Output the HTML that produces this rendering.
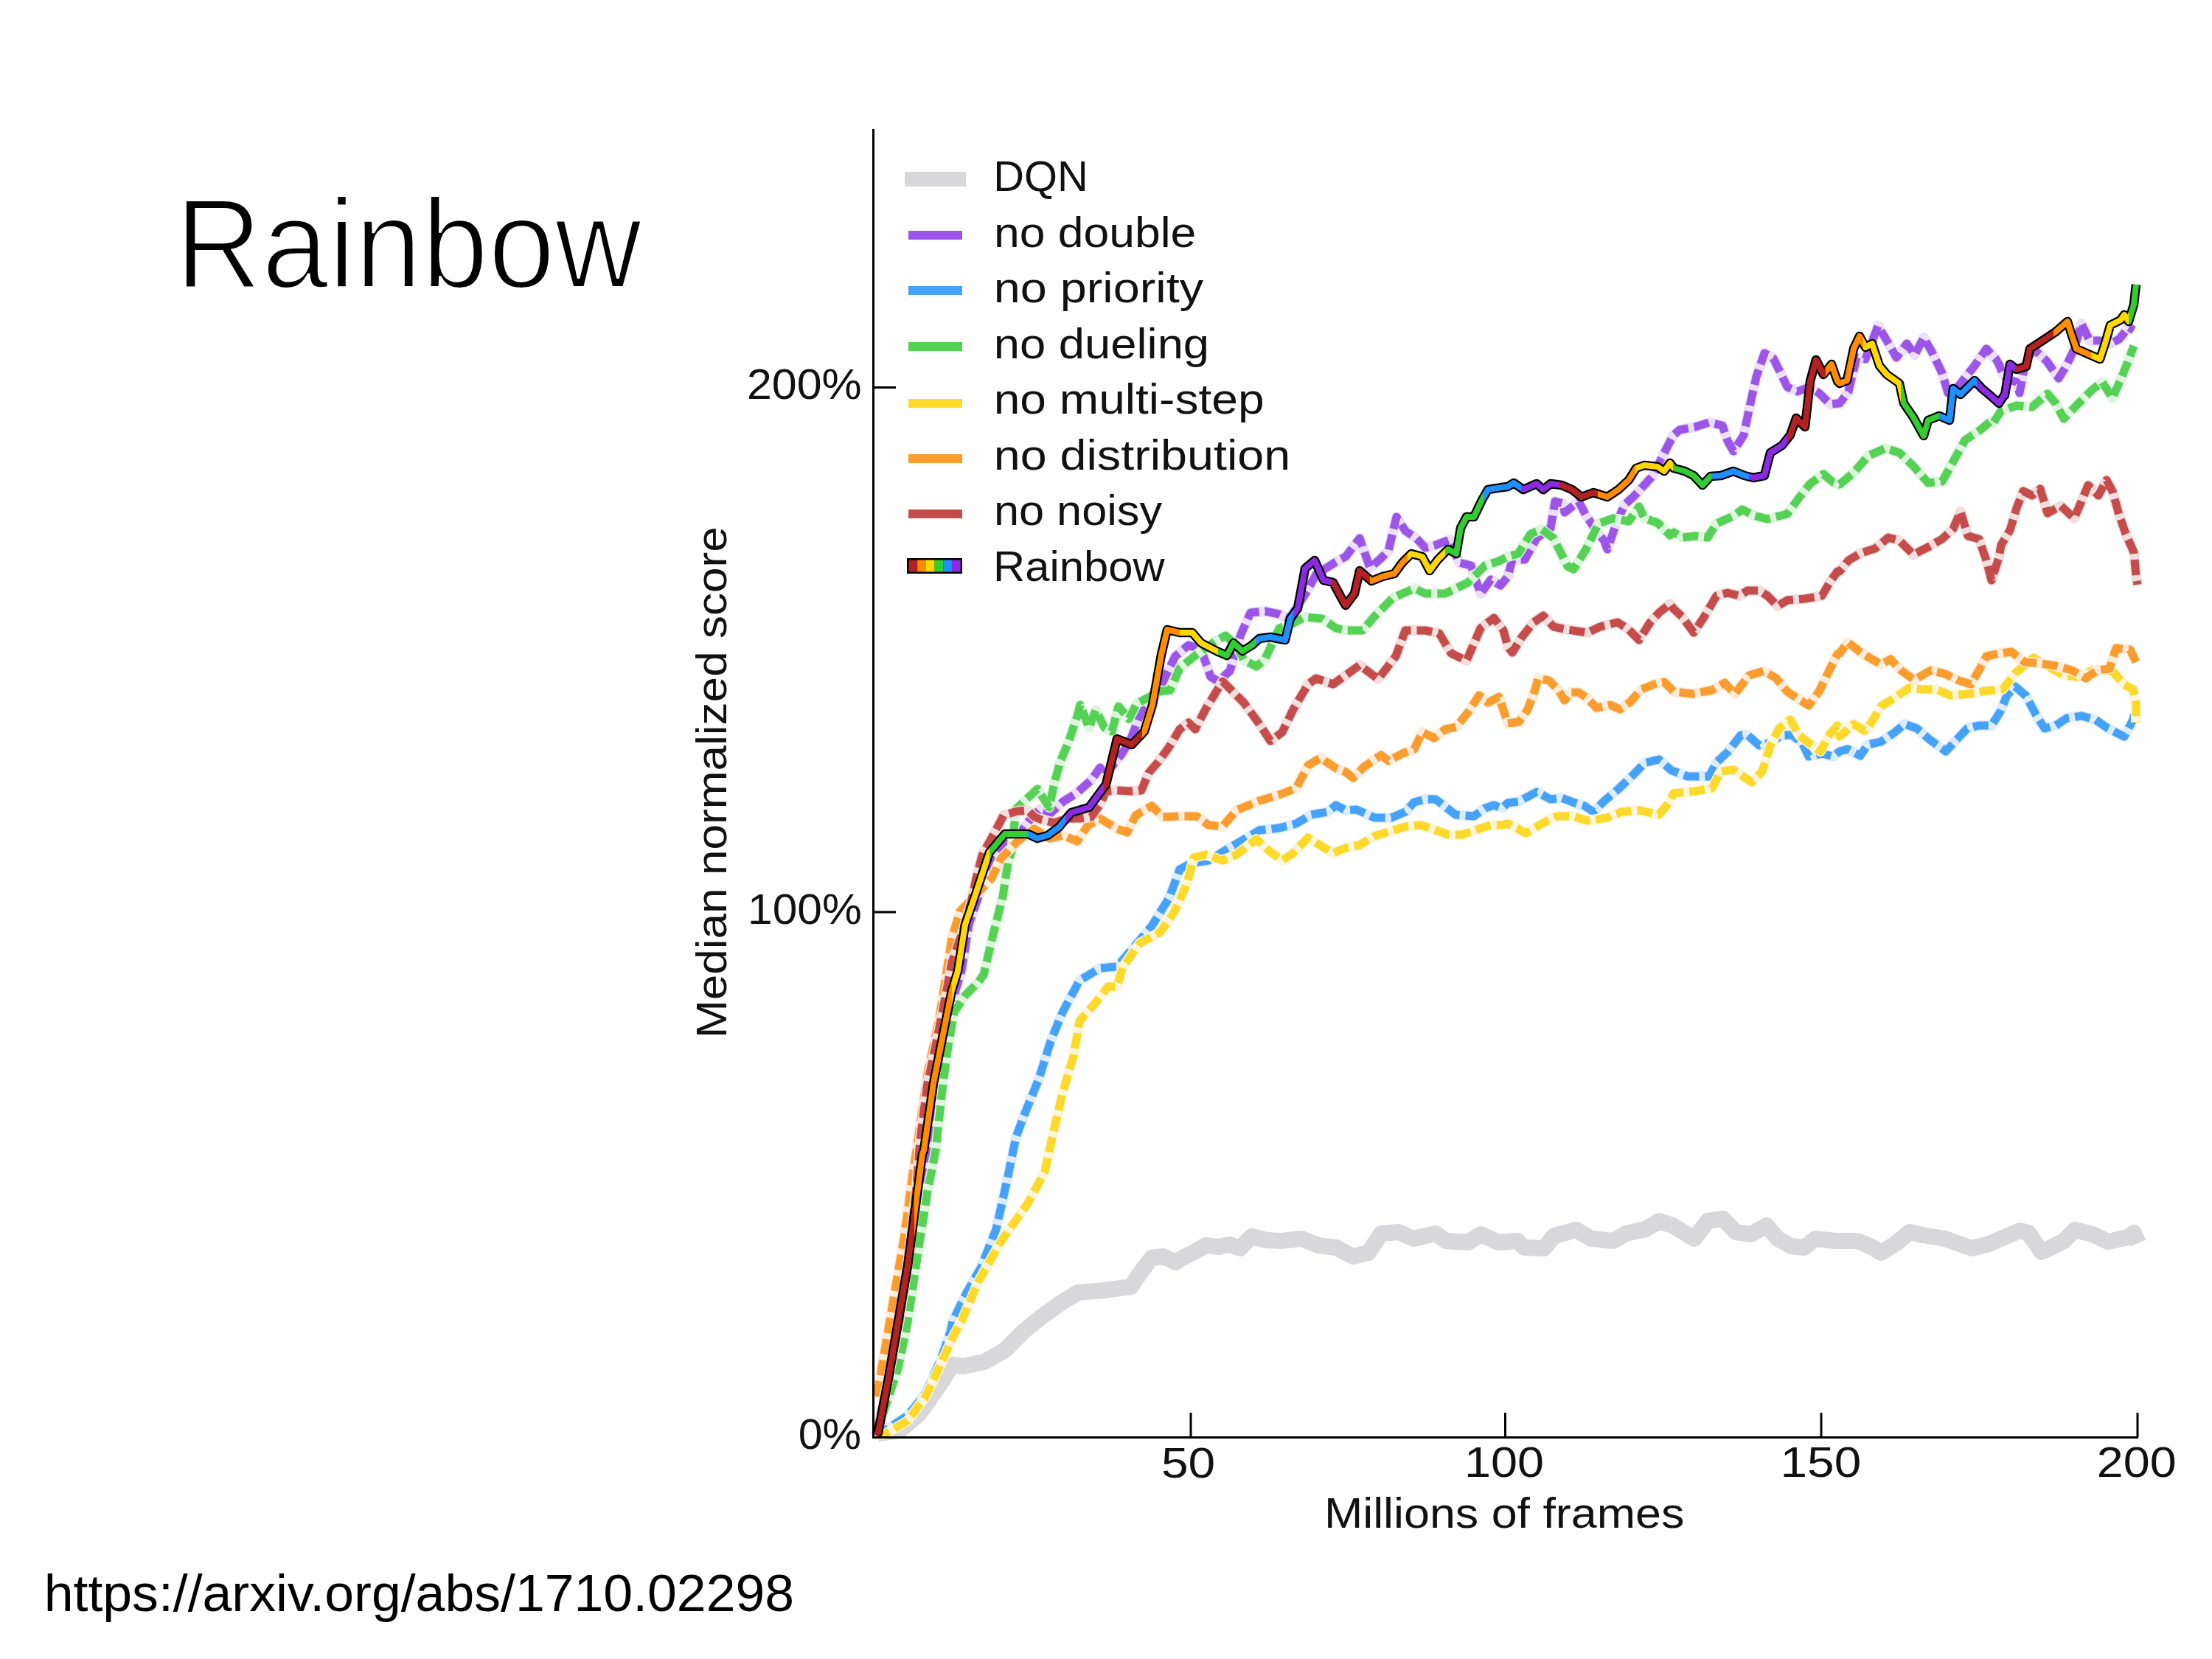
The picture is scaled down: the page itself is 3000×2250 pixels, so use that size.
<!DOCTYPE html>
<html><head><meta charset="utf-8"><style>
html,body{margin:0;padding:0;background:#fff;}
body{width:3000px;height:2250px;overflow:hidden;position:relative;}
svg{position:absolute;left:0;top:0;}
text{font-family:"Liberation Sans", sans-serif;}
</style></head><body>
<svg width="3000" height="2250" viewBox="0 0 3000 2250">
<defs><linearGradient id="rg" gradientUnits="userSpaceOnUse" x1="1188" y1="0" x2="1497" y2="0" spreadMethod="repeat"><stop offset="0.0000" stop-color="#b22222"/><stop offset="0.1667" stop-color="#b22222"/><stop offset="0.1667" stop-color="#ff8c00"/><stop offset="0.3333" stop-color="#ff8c00"/><stop offset="0.3333" stop-color="#ffd700"/><stop offset="0.5000" stop-color="#ffd700"/><stop offset="0.5000" stop-color="#32cd32"/><stop offset="0.6667" stop-color="#32cd32"/><stop offset="0.6667" stop-color="#1e90ff"/><stop offset="0.8333" stop-color="#1e90ff"/><stop offset="0.8333" stop-color="#8a2be2"/><stop offset="1.0000" stop-color="#8a2be2"/></linearGradient></defs>
<rect width="3000" height="2250" fill="#fff"/>
<text x="237.7" y="389.7" font-size="172" textLength="632.4" lengthAdjust="spacingAndGlyphs" fill="#000" stroke="#fff" stroke-width="4">Rainbow</text>
<g fill="#000"><text x="59.7" y="2184.5" font-size="70" textLength="1017.4" lengthAdjust="spacingAndGlyphs" >https://arxiv.org/abs/1710.02298</text></g>
<g>
<path d="M1188,1946 L1192,1944 L1220,1940 L1246,1918 L1264,1893 L1279,1871 L1291,1851 L1307,1853 L1335,1847 L1363,1831 L1389,1805 L1411,1787 L1439,1767 L1462,1753 L1498,1750 L1534,1745 L1548,1724 L1562,1706 L1578,1704 L1594,1712 L1600,1708 L1618,1699 L1635,1689 L1653,1691 L1668,1688 L1682,1693 L1697,1677 L1718,1682 L1738,1683 L1765,1680 L1788,1689 L1812,1692 L1835,1704 L1856,1699 L1873,1673 L1897,1671 L1917,1680 L1947,1673 L1961,1683 L1991,1685 L2008,1674 L2032,1685 L2058,1683 L2067,1692 L2094,1693 L2108,1676 L2138,1668 L2158,1680 L2188,1683 L2205,1673 L2232,1667 L2250,1656 L2268,1662 L2298,1680 L2316,1656 L2337,1653 L2354,1671 L2375,1674 L2396,1662 L2411,1680 L2429,1690 L2447,1692 L2462,1680 L2489,1683 L2519,1683 L2536,1690 L2551,1699 L2572,1686 L2590,1671 L2608,1675 L2638,1680 L2674,1693 L2698,1687 L2739,1669 L2751,1672 L2769,1698 L2799,1683 L2814,1668 L2838,1674 L2859,1684 L2886,1678 L2894,1672 L2900,1686" fill="none" stroke="#d8d8da" stroke-width="22" stroke-linejoin="round" stroke-linecap="butt"/>
<path d="M1188,1946 L1218,1856 L1223,1793 L1236,1717 L1246,1641 L1256,1565 L1271,1469 L1286,1393 L1296,1343 L1304,1317 L1314,1254 L1327,1216 L1346,1165 L1362,1146 L1375,1132 L1388,1124 L1398,1110 L1411,1097 L1426,1102 L1442,1087 L1461,1075 L1480,1058 L1492,1041 L1498,1052 L1521,1023 L1533,1004 L1548,965 L1562,952 L1579,921 L1594,890 L1600,885 L1612,875 L1629,881 L1642,918 L1652,924 L1668,910 L1683,860 L1696,831 L1716,829 L1735,833 L1749,839 L1770,806 L1785,779 L1812,762 L1825,755 L1844,730 L1858,770 L1871,759 L1883,747 L1894,701 L1906,720 L1921,730 L1933,743 L1945,740 L1966,732 L1979,763 L1995,767 L2008,805 L2022,786 L2035,794 L2045,782 L2051,759 L2068,759 L2084,730 L2103,716 L2109,680 L2120,683 L2122,695 L2141,680 L2151,699 L2165,720 L2176,734 L2180,745 L2192,710 L2203,685 L2217,672 L2228,660 L2242,645 L2253,622 L2267,595 L2270,590 L2278,583 L2299,579 L2318,573 L2336,577 L2343,598 L2351,612 L2365,590 L2372,556 L2382,511 L2393,479 L2405,486 L2415,506 L2424,525 L2438,531 L2453,525 L2467,533 L2482,548 L2495,547 L2507,531 L2518,485 L2530,487 L2547,442 L2559,462 L2572,485 L2586,466 L2597,481 L2609,458 L2620,477 L2634,506 L2642,533 L2655,525 L2678,496 L2694,473 L2707,487 L2711,494 L2717,508 L2723,515 L2735,518 L2739,533 L2746,496 L2758,473 L2776,490 L2792,513 L2802,497 L2813,474 L2823,439 L2834,462 L2848,462 L2862,466 L2874,460 L2887,444 L2894,448" fill="none" stroke="#ecdffa" stroke-width="14" stroke-linejoin="round"/>
<path d="M1188,1946 L1218,1856 L1223,1793 L1236,1717 L1246,1641 L1256,1565 L1271,1469 L1286,1393 L1296,1343 L1304,1317 L1314,1254 L1327,1216 L1346,1165 L1362,1146 L1375,1132 L1388,1124 L1398,1110 L1411,1097 L1426,1102 L1442,1087 L1461,1075 L1480,1058 L1492,1041 L1498,1052 L1521,1023 L1533,1004 L1548,965 L1562,952 L1579,921 L1594,890 L1600,885 L1612,875 L1629,881 L1642,918 L1652,924 L1668,910 L1683,860 L1696,831 L1716,829 L1735,833 L1749,839 L1770,806 L1785,779 L1812,762 L1825,755 L1844,730 L1858,770 L1871,759 L1883,747 L1894,701 L1906,720 L1921,730 L1933,743 L1945,740 L1966,732 L1979,763 L1995,767 L2008,805 L2022,786 L2035,794 L2045,782 L2051,759 L2068,759 L2084,730 L2103,716 L2109,680 L2120,683 L2122,695 L2141,680 L2151,699 L2165,720 L2176,734 L2180,745 L2192,710 L2203,685 L2217,672 L2228,660 L2242,645 L2253,622 L2267,595 L2270,590 L2278,583 L2299,579 L2318,573 L2336,577 L2343,598 L2351,612 L2365,590 L2372,556 L2382,511 L2393,479 L2405,486 L2415,506 L2424,525 L2438,531 L2453,525 L2467,533 L2482,548 L2495,547 L2507,531 L2518,485 L2530,487 L2547,442 L2559,462 L2572,485 L2586,466 L2597,481 L2609,458 L2620,477 L2634,506 L2642,533 L2655,525 L2678,496 L2694,473 L2707,487 L2711,494 L2717,508 L2723,515 L2735,518 L2739,533 L2746,496 L2758,473 L2776,490 L2792,513 L2802,497 L2813,474 L2823,439 L2834,462 L2848,462 L2862,466 L2874,460 L2887,444 L2894,448" fill="none" stroke="#9b55e8" stroke-width="11" stroke-dasharray="21 8" stroke-linejoin="round"/>

<path d="M1186,1946 L1200,1940 L1231,1920 L1256,1889 L1276,1844 L1289,1806 L1292,1792 L1311,1753 L1331,1718 L1351,1667 L1366,1600 L1378,1542 L1390,1510 L1409,1463 L1425,1412 L1441,1373 L1464,1330 L1492,1313 L1515,1311 L1539,1283 L1562,1256 L1586,1217 L1600,1179 L1615,1171 L1639,1167 L1664,1152 L1681,1142 L1708,1126 L1735,1123 L1758,1117 L1778,1105 L1801,1101 L1812,1092 L1825,1099 L1840,1098 L1864,1109 L1887,1109 L1906,1101 L1918,1088 L1933,1084 L1947,1084 L1960,1094 L1974,1105 L1999,1107 L2014,1096 L2026,1092 L2037,1096 L2045,1089 L2060,1087 L2084,1074 L2103,1084 L2118,1082 L2136,1089 L2149,1093 L2161,1101 L2176,1086 L2195,1070 L2215,1051 L2230,1035 L2250,1030 L2267,1045 L2270,1046 L2289,1053 L2318,1053 L2328,1034 L2343,1020 L2361,997 L2370,997 L2386,1011 L2401,1007 L2417,997 L2430,997 L2444,1007 L2453,1026 L2471,1022 L2486,1026 L2495,1019 L2506,1016 L2523,1025 L2533,1010 L2551,1006 L2570,993 L2583,982 L2600,988 L2617,1003 L2639,1019 L2653,1004 L2668,988 L2683,984 L2701,984 L2713,965 L2722,943 L2733,931 L2748,944 L2761,969 L2773,988 L2788,984 L2803,974 L2823,971 L2842,976 L2859,988 L2881,999 L2893,976 L2895,969" fill="none" stroke="#ddedfd" stroke-width="14" stroke-linejoin="round"/>
<path d="M1186,1946 L1200,1940 L1231,1920 L1256,1889 L1276,1844 L1289,1806 L1292,1792 L1311,1753 L1331,1718 L1351,1667 L1366,1600 L1378,1542 L1390,1510 L1409,1463 L1425,1412 L1441,1373 L1464,1330 L1492,1313 L1515,1311 L1539,1283 L1562,1256 L1586,1217 L1600,1179 L1615,1171 L1639,1167 L1664,1152 L1681,1142 L1708,1126 L1735,1123 L1758,1117 L1778,1105 L1801,1101 L1812,1092 L1825,1099 L1840,1098 L1864,1109 L1887,1109 L1906,1101 L1918,1088 L1933,1084 L1947,1084 L1960,1094 L1974,1105 L1999,1107 L2014,1096 L2026,1092 L2037,1096 L2045,1089 L2060,1087 L2084,1074 L2103,1084 L2118,1082 L2136,1089 L2149,1093 L2161,1101 L2176,1086 L2195,1070 L2215,1051 L2230,1035 L2250,1030 L2267,1045 L2270,1046 L2289,1053 L2318,1053 L2328,1034 L2343,1020 L2361,997 L2370,997 L2386,1011 L2401,1007 L2417,997 L2430,997 L2444,1007 L2453,1026 L2471,1022 L2486,1026 L2495,1019 L2506,1016 L2523,1025 L2533,1010 L2551,1006 L2570,993 L2583,982 L2600,988 L2617,1003 L2639,1019 L2653,1004 L2668,988 L2683,984 L2701,984 L2713,965 L2722,943 L2733,931 L2748,944 L2761,969 L2773,988 L2788,984 L2803,974 L2823,971 L2842,976 L2859,988 L2881,999 L2893,976 L2895,969" fill="none" stroke="#45a2f8" stroke-width="11" stroke-dasharray="21 8" stroke-linejoin="round"/>

<path d="M1188,1946 L1218,1856 L1231,1793 L1246,1692 L1258,1616 L1269,1560 L1279,1469 L1286,1418 L1294,1373 L1309,1350 L1327,1332 L1334,1322 L1347,1267 L1360,1216 L1367,1170 L1372,1155 L1378,1097 L1407,1070 L1423,1095 L1430,1062 L1438,1033 L1450,1004 L1461,971 L1465,956 L1477,987 L1486,963 L1498,987 L1508,992 L1517,958 L1531,975 L1542,954 L1554,948 L1571,938 L1587,936 L1600,906 L1621,889 L1648,870 L1662,862 L1677,875 L1687,895 L1704,904 L1716,893 L1735,852 L1754,845 L1770,837 L1793,839 L1812,852 L1825,855 L1848,855 L1864,836 L1889,811 L1918,798 L1933,805 L1960,805 L1991,790 L2014,767 L2033,761 L2045,755 L2059,751 L2076,724 L2091,718 L2107,730 L2126,768 L2134,772 L2151,745 L2168,710 L2188,703 L2209,707 L2223,687 L2230,703 L2248,709 L2265,726 L2270,722 L2282,729 L2299,727 L2316,729 L2328,710 L2351,700 L2363,691 L2378,699 L2397,704 L2424,697 L2440,675 L2455,656 L2473,643 L2486,654 L2495,657 L2514,641 L2534,618 L2557,608 L2576,614 L2595,632 L2615,655 L2634,653 L2649,626 L2665,597 L2686,583 L2700,571 L2703,574 L2714,557 L2735,550 L2756,552 L2777,534 L2788,547 L2799,568 L2816,550 L2837,529 L2851,518 L2865,540 L2876,515 L2887,488 L2894,469" fill="none" stroke="#def6de" stroke-width="14" stroke-linejoin="round"/>
<path d="M1188,1946 L1218,1856 L1231,1793 L1246,1692 L1258,1616 L1269,1560 L1279,1469 L1286,1418 L1294,1373 L1309,1350 L1327,1332 L1334,1322 L1347,1267 L1360,1216 L1367,1170 L1372,1155 L1378,1097 L1407,1070 L1423,1095 L1430,1062 L1438,1033 L1450,1004 L1461,971 L1465,956 L1477,987 L1486,963 L1498,987 L1508,992 L1517,958 L1531,975 L1542,954 L1554,948 L1571,938 L1587,936 L1600,906 L1621,889 L1648,870 L1662,862 L1677,875 L1687,895 L1704,904 L1716,893 L1735,852 L1754,845 L1770,837 L1793,839 L1812,852 L1825,855 L1848,855 L1864,836 L1889,811 L1918,798 L1933,805 L1960,805 L1991,790 L2014,767 L2033,761 L2045,755 L2059,751 L2076,724 L2091,718 L2107,730 L2126,768 L2134,772 L2151,745 L2168,710 L2188,703 L2209,707 L2223,687 L2230,703 L2248,709 L2265,726 L2270,722 L2282,729 L2299,727 L2316,729 L2328,710 L2351,700 L2363,691 L2378,699 L2397,704 L2424,697 L2440,675 L2455,656 L2473,643 L2486,654 L2495,657 L2514,641 L2534,618 L2557,608 L2576,614 L2595,632 L2615,655 L2634,653 L2649,626 L2665,597 L2686,583 L2700,571 L2703,574 L2714,557 L2735,550 L2756,552 L2777,534 L2788,547 L2799,568 L2816,550 L2837,529 L2851,518 L2865,540 L2876,515 L2887,488 L2894,469" fill="none" stroke="#55d255" stroke-width="11" stroke-dasharray="21 8" stroke-linejoin="round"/>

<path d="M1186,1946 L1200,1945 L1231,1927 L1256,1893 L1276,1850 L1294,1810 L1304,1792 L1327,1738 L1358,1683 L1394,1632 L1417,1589 L1429,1534 L1441,1483 L1456,1432 L1464,1385 L1484,1362 L1503,1338 L1515,1338 L1523,1311 L1546,1279 L1574,1264 L1593,1236 L1600,1221 L1610,1198 L1619,1163 L1635,1159 L1658,1167 L1677,1159 L1704,1138 L1720,1153 L1739,1167 L1754,1157 L1774,1136 L1793,1148 L1808,1157 L1825,1150 L1844,1146 L1864,1134 L1883,1128 L1906,1121 L1927,1119 L1945,1125 L1964,1132 L1983,1132 L2003,1125 L2022,1119 L2037,1119 L2045,1117 L2070,1130 L2093,1116 L2111,1107 L2134,1107 L2153,1113 L2180,1109 L2199,1101 L2223,1099 L2250,1105 L2263,1089 L2270,1076 L2299,1073 L2322,1069 L2334,1046 L2351,1044 L2376,1061 L2390,1046 L2401,1011 L2413,988 L2428,976 L2440,997 L2455,1009 L2469,1019 L2482,995 L2492,984 L2495,999 L2514,982 L2529,991 L2538,980 L2551,958 L2570,946 L2589,933 L2608,935 L2626,935 L2645,943 L2673,941 L2692,937 L2716,935 L2733,913 L2758,892 L2776,903 L2799,916 L2818,918 L2838,909 L2866,911 L2880,928 L2893,935 L2897,954 L2897,980" fill="none" stroke="#fdf6da" stroke-width="14" stroke-linejoin="round"/>
<path d="M1186,1946 L1200,1945 L1231,1927 L1256,1893 L1276,1850 L1294,1810 L1304,1792 L1327,1738 L1358,1683 L1394,1632 L1417,1589 L1429,1534 L1441,1483 L1456,1432 L1464,1385 L1484,1362 L1503,1338 L1515,1338 L1523,1311 L1546,1279 L1574,1264 L1593,1236 L1600,1221 L1610,1198 L1619,1163 L1635,1159 L1658,1167 L1677,1159 L1704,1138 L1720,1153 L1739,1167 L1754,1157 L1774,1136 L1793,1148 L1808,1157 L1825,1150 L1844,1146 L1864,1134 L1883,1128 L1906,1121 L1927,1119 L1945,1125 L1964,1132 L1983,1132 L2003,1125 L2022,1119 L2037,1119 L2045,1117 L2070,1130 L2093,1116 L2111,1107 L2134,1107 L2153,1113 L2180,1109 L2199,1101 L2223,1099 L2250,1105 L2263,1089 L2270,1076 L2299,1073 L2322,1069 L2334,1046 L2351,1044 L2376,1061 L2390,1046 L2401,1011 L2413,988 L2428,976 L2440,997 L2455,1009 L2469,1019 L2482,995 L2492,984 L2495,999 L2514,982 L2529,991 L2538,980 L2551,958 L2570,946 L2589,933 L2608,935 L2626,935 L2645,943 L2673,941 L2692,937 L2716,935 L2733,913 L2758,892 L2776,903 L2799,916 L2818,918 L2838,909 L2866,911 L2880,928 L2893,935 L2897,954 L2897,980" fill="none" stroke="#fdd92a" stroke-width="11" stroke-dasharray="21 8" stroke-linejoin="round"/>

<path d="M1186,1886 L1190,1889 L1200,1831 L1213,1755 L1226,1679 L1238,1591 L1243,1560 L1258,1456 L1274,1380 L1284,1317 L1291,1272 L1302,1236 L1345,1191 L1357,1165 L1380,1141 L1403,1124 L1423,1137 L1442,1133 L1461,1141 L1475,1120 L1492,1110 L1515,1124 L1529,1129 L1540,1106 L1562,1093 L1577,1108 L1600,1107 L1623,1107 L1639,1119 L1658,1121 L1677,1099 L1708,1086 L1735,1078 L1758,1069 L1774,1038 L1791,1028 L1812,1042 L1825,1047 L1835,1055 L1850,1040 L1873,1024 L1883,1032 L1902,1022 L1918,1016 L1929,993 L1945,1001 L1960,989 L1975,986 L1991,966 L2006,943 L2018,953 L2033,945 L2045,981 L2060,979 L2072,962 L2082,935 L2086,920 L2101,923 L2113,935 L2122,950 L2130,939 L2141,939 L2153,947 L2165,960 L2184,956 L2197,962 L2211,952 L2226,935 L2246,927 L2257,925 L2270,938 L2295,941 L2322,936 L2339,926 L2353,941 L2372,916 L2392,910 L2409,920 L2424,938 L2453,957 L2467,938 L2482,907 L2492,887 L2495,886 L2506,871 L2525,886 L2551,901 L2564,894 L2578,909 L2596,922 L2619,909 L2638,914 L2654,922 L2673,928 L2684,909 L2694,890 L2713,886 L2728,884 L2746,898 L2763,899 L2788,903 L2810,909 L2829,920 L2844,909 L2861,907 L2870,879 L2889,881 L2897,898" fill="none" stroke="#fdecda" stroke-width="14" stroke-linejoin="round"/>
<path d="M1186,1886 L1190,1889 L1200,1831 L1213,1755 L1226,1679 L1238,1591 L1243,1560 L1258,1456 L1274,1380 L1284,1317 L1291,1272 L1302,1236 L1345,1191 L1357,1165 L1380,1141 L1403,1124 L1423,1137 L1442,1133 L1461,1141 L1475,1120 L1492,1110 L1515,1124 L1529,1129 L1540,1106 L1562,1093 L1577,1108 L1600,1107 L1623,1107 L1639,1119 L1658,1121 L1677,1099 L1708,1086 L1735,1078 L1758,1069 L1774,1038 L1791,1028 L1812,1042 L1825,1047 L1835,1055 L1850,1040 L1873,1024 L1883,1032 L1902,1022 L1918,1016 L1929,993 L1945,1001 L1960,989 L1975,986 L1991,966 L2006,943 L2018,953 L2033,945 L2045,981 L2060,979 L2072,962 L2082,935 L2086,920 L2101,923 L2113,935 L2122,950 L2130,939 L2141,939 L2153,947 L2165,960 L2184,956 L2197,962 L2211,952 L2226,935 L2246,927 L2257,925 L2270,938 L2295,941 L2322,936 L2339,926 L2353,941 L2372,916 L2392,910 L2409,920 L2424,938 L2453,957 L2467,938 L2482,907 L2492,887 L2495,886 L2506,871 L2525,886 L2551,901 L2564,894 L2578,909 L2596,922 L2619,909 L2638,914 L2654,922 L2673,928 L2684,909 L2694,890 L2713,886 L2728,884 L2746,898 L2763,899 L2788,903 L2810,909 L2829,920 L2844,909 L2861,907 L2870,879 L2889,881 L2897,898" fill="none" stroke="#fb9d2e" stroke-width="11" stroke-dasharray="21 8" stroke-linejoin="round"/>

<path d="M1188,1946 L1190,1940 L1205,1869 L1220,1790 L1233,1700 L1243,1610 L1248,1545 L1258,1469 L1269,1418 L1279,1368 L1291,1305 L1307,1259 L1317,1224 L1324,1191 L1332,1160 L1334,1156 L1349,1129 L1361,1106 L1380,1100 L1394,1099 L1403,1108 L1413,1112 L1430,1116 L1446,1110 L1465,1110 L1480,1108 L1492,1091 L1500,1073 L1513,1072 L1535,1073 L1548,1072 L1558,1048 L1571,1033 L1585,1014 L1600,989 L1612,980 L1621,989 L1635,962 L1658,924 L1687,953 L1708,982 L1723,1005 L1739,993 L1754,962 L1774,928 L1785,920 L1808,928 L1829,913 L1844,902 L1869,921 L1893,890 L1906,855 L1933,855 L1952,859 L1968,886 L1989,896 L2008,852 L2026,838 L2039,855 L2045,877 L2051,885 L2064,864 L2080,844 L2093,835 L2107,850 L2126,854 L2153,858 L2170,850 L2194,844 L2209,854 L2223,868 L2238,844 L2250,831 L2265,819 L2270,826 L2282,837 L2297,858 L2311,837 L2328,808 L2343,804 L2359,808 L2370,801 L2386,801 L2397,808 L2411,822 L2424,814 L2448,812 L2471,808 L2482,789 L2492,775 L2495,775 L2507,760 L2524,750 L2543,744 L2561,729 L2576,733 L2595,752 L2615,742 L2634,731 L2649,717 L2659,694 L2669,727 L2684,731 L2694,760 L2701,787 L2711,756 L2714,739 L2726,719 L2735,689 L2744,666 L2756,672 L2767,663 L2777,696 L2795,686 L2813,703 L2823,680 L2832,658 L2846,672 L2857,651 L2865,666 L2874,698 L2883,724 L2894,749 L2897,781 L2899,793" fill="none" stroke="#f3dede" stroke-width="14" stroke-linejoin="round"/>
<path d="M1188,1946 L1190,1940 L1205,1869 L1220,1790 L1233,1700 L1243,1610 L1248,1545 L1258,1469 L1269,1418 L1279,1368 L1291,1305 L1307,1259 L1317,1224 L1324,1191 L1332,1160 L1334,1156 L1349,1129 L1361,1106 L1380,1100 L1394,1099 L1403,1108 L1413,1112 L1430,1116 L1446,1110 L1465,1110 L1480,1108 L1492,1091 L1500,1073 L1513,1072 L1535,1073 L1548,1072 L1558,1048 L1571,1033 L1585,1014 L1600,989 L1612,980 L1621,989 L1635,962 L1658,924 L1687,953 L1708,982 L1723,1005 L1739,993 L1754,962 L1774,928 L1785,920 L1808,928 L1829,913 L1844,902 L1869,921 L1893,890 L1906,855 L1933,855 L1952,859 L1968,886 L1989,896 L2008,852 L2026,838 L2039,855 L2045,877 L2051,885 L2064,864 L2080,844 L2093,835 L2107,850 L2126,854 L2153,858 L2170,850 L2194,844 L2209,854 L2223,868 L2238,844 L2250,831 L2265,819 L2270,826 L2282,837 L2297,858 L2311,837 L2328,808 L2343,804 L2359,808 L2370,801 L2386,801 L2397,808 L2411,822 L2424,814 L2448,812 L2471,808 L2482,789 L2492,775 L2495,775 L2507,760 L2524,750 L2543,744 L2561,729 L2576,733 L2595,752 L2615,742 L2634,731 L2649,717 L2659,694 L2669,727 L2684,731 L2694,760 L2701,787 L2711,756 L2714,739 L2726,719 L2735,689 L2744,666 L2756,672 L2767,663 L2777,696 L2795,686 L2813,703 L2823,680 L2832,658 L2846,672 L2857,651 L2865,666 L2874,698 L2883,724 L2894,749 L2897,781 L2899,793" fill="none" stroke="#c64c4c" stroke-width="11" stroke-dasharray="21 8" stroke-linejoin="round"/>

<path d="M1188,1946 L1191,1943 L1205,1869 L1218,1793 L1231,1717 L1241,1641 L1251,1565 L1253,1560 L1266,1469 L1281,1393 L1291,1343 L1299,1317 L1309,1254 L1322,1216 L1342,1156 L1363,1131 L1394,1131 L1407,1137 L1421,1133 L1436,1122 L1453,1102 L1477,1095 L1500,1064 L1515,1002 L1535,1010 L1552,992 L1563,956 L1575,888 L1583,854 L1600,858 L1617,858 L1629,872 L1650,883 L1664,889 L1673,872 L1685,883 L1698,875 L1708,866 L1723,864 L1743,868 L1750,839 L1760,825 L1770,771 L1783,760 L1795,787 L1808,790 L1822,816 L1825,821 L1837,805 L1844,774 L1860,788 L1875,782 L1891,778 L1902,763 L1914,751 L1929,755 L1939,774 L1950,759 L1964,745 L1975,751 L1981,716 L1989,701 L1999,701 L2010,678 L2018,664 L2037,661 L2045,660 L2053,655 L2066,664 L2084,656 L2093,664 L2103,656 L2118,658 L2132,664 L2145,674 L2161,668 L2180,674 L2195,664 L2209,651 L2219,635 L2230,631 L2248,633 L2257,639 L2265,628 L2270,635 L2285,639 L2297,645 L2309,658 L2320,646 L2334,645 L2351,639 L2366,645 L2378,648 L2393,645 L2401,614 L2417,604 L2428,590 L2436,567 L2448,579 L2455,517 L2463,488 L2473,508 L2484,494 L2492,517 L2495,520 L2505,516 L2514,473 L2522,456 L2530,471 L2539,466 L2549,496 L2559,508 L2576,520 L2582,547 L2595,566 L2609,591 L2615,570 L2630,564 L2644,570 L2649,527 L2659,535 L2678,516 L2688,527 L2700,537 L2711,547 L2719,535 L2719,536 L2726,494 L2735,501 L2748,497 L2753,473 L2767,464 L2788,450 L2804,436 L2809,452 L2816,473 L2834,481 L2848,487 L2855,466 L2862,441 L2876,434 L2881,427 L2887,436 L2894,413 L2897,386" fill="none" stroke="#000" stroke-width="12.5" stroke-linejoin="round"/>
<path d="M1188,1946 L1191,1943 L1205,1869 L1218,1793 L1231,1717 L1241,1641 L1251,1565 L1253,1560 L1266,1469 L1281,1393 L1291,1343 L1299,1317 L1309,1254 L1322,1216 L1342,1156 L1363,1131 L1394,1131 L1407,1137 L1421,1133 L1436,1122 L1453,1102 L1477,1095 L1500,1064 L1515,1002 L1535,1010 L1552,992 L1563,956 L1575,888 L1583,854 L1600,858 L1617,858 L1629,872 L1650,883 L1664,889 L1673,872 L1685,883 L1698,875 L1708,866 L1723,864 L1743,868 L1750,839 L1760,825 L1770,771 L1783,760 L1795,787 L1808,790 L1822,816 L1825,821 L1837,805 L1844,774 L1860,788 L1875,782 L1891,778 L1902,763 L1914,751 L1929,755 L1939,774 L1950,759 L1964,745 L1975,751 L1981,716 L1989,701 L1999,701 L2010,678 L2018,664 L2037,661 L2045,660 L2053,655 L2066,664 L2084,656 L2093,664 L2103,656 L2118,658 L2132,664 L2145,674 L2161,668 L2180,674 L2195,664 L2209,651 L2219,635 L2230,631 L2248,633 L2257,639 L2265,628 L2270,635 L2285,639 L2297,645 L2309,658 L2320,646 L2334,645 L2351,639 L2366,645 L2378,648 L2393,645 L2401,614 L2417,604 L2428,590 L2436,567 L2448,579 L2455,517 L2463,488 L2473,508 L2484,494 L2492,517 L2495,520 L2505,516 L2514,473 L2522,456 L2530,471 L2539,466 L2549,496 L2559,508 L2576,520 L2582,547 L2595,566 L2609,591 L2615,570 L2630,564 L2644,570 L2649,527 L2659,535 L2678,516 L2688,527 L2700,537 L2711,547 L2719,535 L2719,536 L2726,494 L2735,501 L2748,497 L2753,473 L2767,464 L2788,450 L2804,436 L2809,452 L2816,473 L2834,481 L2848,487 L2855,466 L2862,441 L2876,434 L2881,427 L2887,436 L2894,413 L2897,386" fill="none" stroke="url(#rg)" stroke-width="8" stroke-linejoin="round"/>
</g>
<g stroke="#000" stroke-width="3" fill="none">
<path d="M1184.5,175 V1949.5 H2900"/>
<path d="M1184.5,525.5 H1215 M1184.5,1237 H1215"/>
<path d="M1615,1949 V1916 M2041.5,1949 V1916 M2470,1949 V1916 M2899,1949 V1916"/>
</g>
<g fill="#111">
<text x="1012.9" y="541" font-size="57" textLength="155.8" lengthAdjust="spacingAndGlyphs" >200%</text>
<text x="1014.1" y="1252.6" font-size="57" textLength="154.7" lengthAdjust="spacingAndGlyphs" >100%</text>
<text x="1082.7" y="1965" font-size="57" textLength="85.4" lengthAdjust="spacingAndGlyphs" >0%</text>
<text x="1574.9" y="2004" font-size="57" textLength="73.3" lengthAdjust="spacingAndGlyphs" >50</text>
<text x="1986.1" y="2003" font-size="57" textLength="108.0" lengthAdjust="spacingAndGlyphs" >100</text>
<text x="2414.6" y="2003" font-size="57" textLength="109.6" lengthAdjust="spacingAndGlyphs" >150</text>
<text x="2843.8" y="2003" font-size="57" textLength="107.8" lengthAdjust="spacingAndGlyphs" >200</text>
<text x="1795.9" y="2072" font-size="57" textLength="488.4" lengthAdjust="spacingAndGlyphs" >Millions of frames</text>
<text transform="translate(985,1403) rotate(-90)" x="-5.1" y="0" font-size="57" textLength="693.9" lengthAdjust="spacingAndGlyphs">Median normalized score</text>
<rect x="1227" y="233" width="83" height="20" fill="#d8d8da"/>
<rect x="1232" y="313" width="73" height="12" fill="#9b55e8"/>
<rect x="1232" y="388" width="73" height="12" fill="#45a2f8"/>
<rect x="1232" y="464" width="73" height="12" fill="#55d255"/>
<rect x="1232" y="541" width="73" height="12" fill="#fdd92a"/>
<rect x="1232" y="616" width="73" height="12" fill="#fb9d2e"/>
<rect x="1232" y="691" width="73" height="12" fill="#c64c4c"/>
<rect x="1230" y="757" width="75" height="21" fill="#000"/>
<rect x="1232.50" y="759.5" width="11.8" height="16" fill="#b22222"/>
<rect x="1244.17" y="759.5" width="11.8" height="16" fill="#ff8c00"/>
<rect x="1255.84" y="759.5" width="11.8" height="16" fill="#ffd700"/>
<rect x="1267.51" y="759.5" width="11.8" height="16" fill="#32cd32"/>
<rect x="1279.18" y="759.5" width="11.8" height="16" fill="#1e90ff"/>
<rect x="1290.85" y="759.5" width="11.8" height="16" fill="#8a2be2"/>
<text x="1347.3" y="259" font-size="57" textLength="128.5" lengthAdjust="spacingAndGlyphs" >DQN</text>
<text x="1347.9" y="334.5" font-size="57" textLength="274.4" lengthAdjust="spacingAndGlyphs" >no double</text>
<text x="1347.7" y="410" font-size="57" textLength="284.4" lengthAdjust="spacingAndGlyphs" >no priority</text>
<text x="1347.8" y="485.5" font-size="57" textLength="292.3" lengthAdjust="spacingAndGlyphs" >no dueling</text>
<text x="1347.7" y="561" font-size="57" textLength="366.9" lengthAdjust="spacingAndGlyphs" >no multi-step</text>
<text x="1347.7" y="636.5" font-size="57" textLength="402.5" lengthAdjust="spacingAndGlyphs" >no distribution</text>
<text x="1347.9" y="712" font-size="57" textLength="228.2" lengthAdjust="spacingAndGlyphs" >no noisy</text>
<text x="1347.1" y="787.5" font-size="57" textLength="232.5" lengthAdjust="spacingAndGlyphs" >Rainbow</text>
</g>
</svg>
</body></html>
